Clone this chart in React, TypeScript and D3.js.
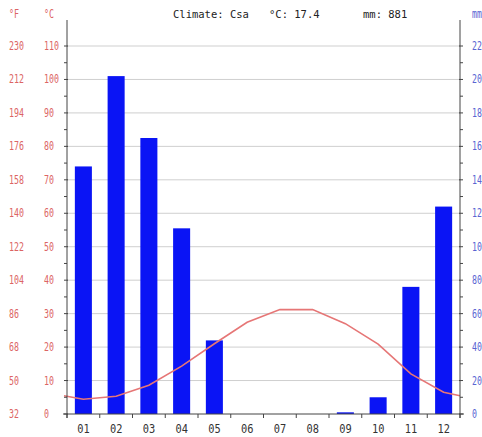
import React from 'react';
import * as d3 from 'd3';

// climate chart data
const months = ['01', '02', '03', '04', '05', '06', '07', '08', '09', '10', '11', '12'];
const precipMm = [148, 202, 165, 111, 44, 0, 0, 0, 1, 10, 76, 124];
const tempC = [4.4, 5.3, 8.6, 14.3, 21.0, 27.4, 31.2, 31.2, 27.0, 20.9, 12.0, 6.5];
const celsiusTicks = [0, 10, 20, 30, 40, 50, 60, 70, 80, 90, 100, 110];
const mmTicks = [0, 20, 40, 60, 80, 100, 120, 140, 160, 180, 200, 220];
const climateCode = 'Csa';
const meanTemp = '17.4';
const totalMm = '881';

const W = 482;
const H = 437;
const left = 67;
const right = 460;
const top = 46;
const bottom = 414;

const RED = '#dc6464';
const BLUE = '#5a64d2';
const FONT = 'DejaVu Sans Mono';

const Label = ({ x, y, sx = 0.72, anchor = 'start', fill, size = 11.5, children }) => (
  <text
    transform={`translate(${x},${y}) scale(${sx},1)`}
    textAnchor={anchor}
    fontFamily={FONT}
    fontSize={size}
    fill={fill}
  >
    {children}
  </text>
);

export default function App() {
  const x = d3.scaleBand().domain(months).range([left, right]).padding(0);
  const yC = d3.scaleLinear().domain([0, 110]).range([bottom, top]);
  const yMm = d3.scaleLinear().domain([0, 220]).range([bottom, top]);
  const bw = x.bandwidth();
  const barW = bw * 0.52;

  // temperature line, wrapped to the plot edges with the Dec/Jan mean
  const edgeT = (tempC[0] + tempC[11]) / 2;
  const pts: [number, number][] = [
    [left - 3, yC(edgeT)],
    ...months.map((m, i) => [x(m) + bw / 2, yC(tempC[i])] as [number, number]),
    [right, yC(edgeT)],
  ];
  const line = d3.line();

  const minorC = d3.range(0, 111, 5);
  const minorMm = d3.range(0, 221, 10);
  const bounds = [...months.map((m) => x(m)), right];

  return (
    <svg width={W} height={H} style={{ position: 'absolute', left: 0, top: 0, background: '#fff' }}>
      {/* grid */}
      {celsiusTicks.filter((t) => t > 0).map((t) => (
        <line key={t} x1={left} x2={right} y1={yC(t)} y2={yC(t)} stroke="#cfcfcf" strokeWidth={1} />
      ))}

      {/* bars */}
      {months.map((m, i) => (
        <rect
          key={m}
          x={x(m) + (bw - barW) / 2}
          y={yMm(precipMm[i])}
          width={barW}
          height={bottom - yMm(precipMm[i])}
          fill="#0a14f5"
        />
      ))}

      {/* temperature */}
      <path d={line(pts)} fill="none" stroke="#e67676" strokeWidth={1.6} />

      {/* axes */}
      <line x1={left} x2={left} y1={20} y2={bottom + 4} stroke="#444" />
      <line x1={right} x2={right} y1={20} y2={bottom + 4} stroke="#444" />
      <line x1={left - 4} x2={right + 4} y1={bottom} y2={bottom} stroke="#444" />
      {minorC.map((t) => (
        <line key={t} x1={left - 3} x2={left + (t % 10 === 0 ? 1 : 0)} y1={yC(t)} y2={yC(t)} stroke="#444" />
      ))}
      {minorMm.map((t) => (
        <line key={t} x1={right - (t % 20 === 0 ? 1 : 0)} x2={right + 3} y1={yMm(t)} y2={yMm(t)} stroke="#444" />
      ))}
      {bounds.map((b, i) => (
        <line key={i} x1={b} x2={b} y1={bottom} y2={bottom + 4} stroke="#444" />
      ))}

      {/* left labels */}
      <Label x={9} y={18} fill={RED}>°F</Label>
      <Label x={44} y={18} fill={RED}>°C</Label>
      {celsiusTicks.map((t) => (
        <g key={t}>
          <Label x={9} y={yC(t) + 4} fill={RED}>{Math.round(t * 1.8 + 32)}</Label>
          <Label x={44} y={yC(t) + 4} fill={RED}>{t}</Label>
        </g>
      ))}

      {/* right labels */}
      <Label x={472} y={18} fill={BLUE}>mm</Label>
      {mmTicks.map((t) => (
        <Label key={t} x={472} y={yMm(t) + 4} fill={BLUE}>{t}</Label>
      ))}

      {/* months */}
      {months.map((m) => (
        <Label key={m} x={x(m) + bw / 2} y={433} anchor="middle" sx={0.9} fill="#333">{m}</Label>
      ))}

      {/* header */}
      <Label x={173} y={18} sx={1} size={10.5} fill="#222">{`Climate: ${climateCode}`}</Label>
      <Label x={269} y={18} sx={1} size={10.5} fill="#222">{`°C: ${meanTemp}`}</Label>
      <Label x={363} y={18} sx={1} size={10.5} fill="#222">{`mm: ${totalMm}`}</Label>
    </svg>
  );
}
